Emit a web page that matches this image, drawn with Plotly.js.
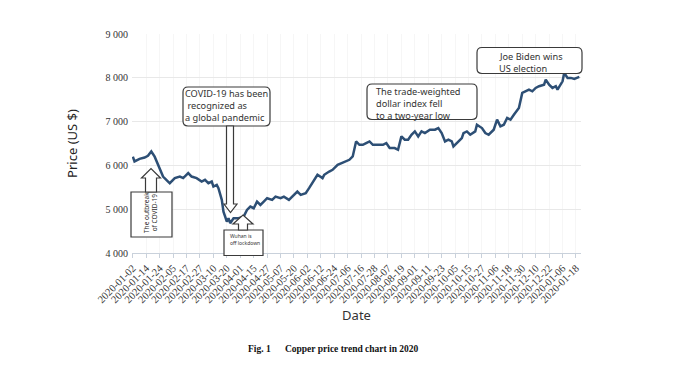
<!DOCTYPE html>
<html>
<head>
<meta charset="utf-8">
<script src="https://cdn.plot.ly/plotly-3.0.1.min.js"></script>
<style>html,body{margin:0;padding:0;background:#fff;}#chart{width:681px;height:381px;}</style>
</head>
<body>
<div id="chart"></div>
<script>
// Trading-day index (0 = 2020-01-02) and copper price (US $)
const dayIndex = [0,1,4,7,9,11,13,16,18,21,22,25,28,30,32,33,35,38,41,43,45,47,48,50,51,52,53,54,55,56,57,58,60,63,66,68,70,72,74,76,78,80,83,85,88,90,93,96,98,100,103,105,107,110,113,114,117,119,122,126,129,131,132,133,135,137,139,141,143,146,149,151,153,156,158,160,162,164,166,168,170,172,174,177,180,182,184,186,188,190,191,193,196,197,199,201,204,205,208,210,212,215,217,219,221,223,225,227,229,230,232,234,236,238,240,242,245,246,248,250,252,253,256,257,259,261,263,266];
const price = [6200,6090,6150,6180,6220,6318,6200,5940,5746,5632,5595,5710,5746,5710,5785,5824,5746,5710,5632,5670,5595,5632,5517,5556,5480,5366,5213,4945,4831,4716,4794,4680,4794,4794,4831,4984,5060,5022,5174,5098,5174,5251,5213,5288,5251,5288,5213,5327,5403,5327,5366,5480,5595,5785,5710,5785,5860,5900,6014,6090,6128,6204,6357,6547,6471,6471,6510,6547,6471,6471,6471,6510,6396,6396,6357,6662,6586,6586,6700,6776,6662,6776,6739,6815,6815,6853,6739,6547,6586,6547,6433,6510,6624,6739,6776,6700,6776,6929,6853,6739,6700,6815,7044,6891,6929,7082,7044,7158,7272,7311,7654,7692,7730,7692,7769,7807,7844,7959,7844,7769,7807,7730,7920,8112,7998,7998,7975,8020];

// x-axis tick labels (every 8 trading days), as printed in the figure
const tickLabels = ["2020-01-02","2020-01-14","2020-01-24","2020-02-05","2020-02-17","2020-02-27","2020-03-10","2020-03-20","2020-04-01","2020-04-15","2020-04-27","2020-05-07","2020-05-20","2020-06-02","2020-06-12","2020-06-24","2020-07-06","2020-07-16","2020-07-28","2020-08-07","2020-08-19","2020-09-01","2020-09-11","2020-09-23","2020-10-05","2020-10-15","2020-10-27","2020-11-06","2020-11-18","2020-11-30","2020-12-10","2020-12-22","2020-01-06","2020-01-18"];
const tickStep = 8;
const yTickVals = [4000,5000,6000,7000,8000,9000];
const yTickText = ["4 000","5 000","6 000","7 000","8 000","9 000"];

// Annotation texts
const covidLines = ["COVID-19 has been"," recognized as","a global pandemic"];
const outbreakText = "The outbreak<br>of COVID-19";
const wuhanLines = ["Wuhan is","off lockdown"];
const dollarLines = ["The trade-weighted","dollar index fell","to a two-year low"];
const bidenLines = ["Joe Biden wins","US election"];
const caption = "Fig. 1\u2003\u2002Copper price trend chart in 2020";

const tickVals = tickLabels.map((_, i) => i * tickStep);

// pixel -> paper helpers (plot area: x 132..581, y 34..253)
const L = 132, R = 581, T = 34, B = 253;
const px = x => (x - L) / (R - L);
const py = y => (B - y) / (B - T);
function rrect(x0, y0, x1, y1, r) {
  return `M${px(x0+r)},${py(y0)} L${px(x1-r)},${py(y0)} Q${px(x1)},${py(y0)} ${px(x1)},${py(y0+r)} ` +
         `L${px(x1)},${py(y1-r)} Q${px(x1)},${py(y1)} ${px(x1-r)},${py(y1)} ` +
         `L${px(x0+r)},${py(y1)} Q${px(x0)},${py(y1)} ${px(x0)},${py(y1-r)} ` +
         `L${px(x0)},${py(y0+r)} Q${px(x0)},${py(y0)} ${px(x0+r)},${py(y0)} Z`;
}
function poly(pts) {
  return 'M' + pts.map(p => `${px(p[0])},${py(p[1])}`).join(' L') + ' Z';
}
const boxLine = {color: '#3a3a3a', width: 1.2};
function shp(path) {
  return {type: 'path', xref: 'paper', yref: 'paper', path: path, line: boxLine, fillcolor: '#ffffff', layer: 'above'};
}
const shapes = [
  shp(rrect(183, 87, 270, 126, 5)),
  shp(poly([[226.5,126],[226.5,204],[224,204],[230.5,212.5],[237,204],[233.5,204],[233.5,126]])),
  shp(poly([[131,192],[172,192],[172,237],[131,237]])),
  shp(poly([[145.5,192],[145.5,178],[141.5,178],[151,168.5],[160.5,178],[156.5,178],[156.5,192]])),
  shp(poly([[224,230],[263,230],[263,255.5],[224,255.5]])),
  shp(poly([[238.5,230],[238.5,224],[233,224],[243,215],[253,224],[247.5,224],[247.5,230]])),
  shp(rrect(367, 84, 477, 119.5, 5)),
  shp(rrect(477, 47.5, 582, 73.5, 5))
];

const annFont = {family: 'Noto Sans, sans-serif', size: 9.2, color: '#333'};
const annotations = [];
function lines(arr, x, y0, dy, font) {
  arr.forEach((t, i) => annotations.push({
    xref: 'paper', yref: 'paper', x: px(x), y: py(y0 + i * dy), text: t,
    showarrow: false, xanchor: 'left', yanchor: 'middle', align: 'left', font: font,
    borderpad: 0
  }));
}
lines(covidLines, 184, 93, 12.3, annFont);
lines(dollarLines, 375, 91.5, 12, annFont);
lines(bidenLines, 498, 56, 12, annFont);
lines(wuhanLines, 229, 236, 7, {family: 'Noto Sans, sans-serif', size: 5, color: '#333'});
annotations.push({
  xref: 'paper', yref: 'paper', x: px(150), y: py(213), text: outbreakText, textangle: -90,
  showarrow: false, xanchor: 'center', yanchor: 'middle', align: 'center', borderpad: 0,
  font: {family: 'Noto Sans, sans-serif', size: 6.5, color: '#333'}
});
annotations.push({
  xref: 'paper', yref: 'paper', x: px(333), y: py(348.5), text: '<b>' + caption + '</b>',
  showarrow: false, xanchor: 'center', yanchor: 'middle',
  font: {family: "'Liberation Serif', 'Times New Roman', serif", size: 9.5, color: '#111'}
});

const trace = {
  x: dayIndex, y: price, type: 'scatter', mode: 'lines',
  line: {color: '#2d4f75', width: 2.5}, hoverinfo: 'skip'
};

const serif = "'Liberation Serif', 'Times New Roman', serif";
const layout = {
  width: 681, height: 381,
  margin: {l: L, r: 681 - R, t: T, b: 381 - B, pad: 0},
  paper_bgcolor: '#fff', plot_bgcolor: '#fff',
  showlegend: false,
  xaxis: {
    range: [-0.5, 267], tickmode: 'array', tickvals: tickVals, ticktext: tickLabels,
    tickangle: -45, ticks: 'outside', ticklen: 4, tickcolor: '#c9d1db', tickwidth: 1,
    showline: true, linecolor: '#c9d1db', linewidth: 1,
    showgrid: true, gridcolor: '#f6f6f6', zeroline: false,
    tickfont: {family: serif, size: 10.5, color: '#333'},
    title: {text: 'Date', font: {family: 'Noto Sans, sans-serif', size: 13, color: '#333'}, standoff: 6},
    automargin: false
  },
  yaxis: {
    range: [4000, 9000], tickmode: 'array', tickvals: yTickVals, ticktext: yTickText,
    showgrid: true, gridcolor: '#e8e8e8', gridwidth: 1, zeroline: false, showline: false,
    ticks: '', ticklabelstandoff: 3,
    tickfont: {family: serif, size: 10, color: '#333'},
    title: {text: 'Price (US $)', font: {family: 'Noto Sans, sans-serif', size: 13, color: '#222'}, standoff: 24},
    automargin: false
  },
  shapes: shapes,
  annotations: annotations
};

Plotly.newPlot('chart', [trace], layout, {staticPlot: true, displayModeBar: false});
</script>
</body>
</html>
